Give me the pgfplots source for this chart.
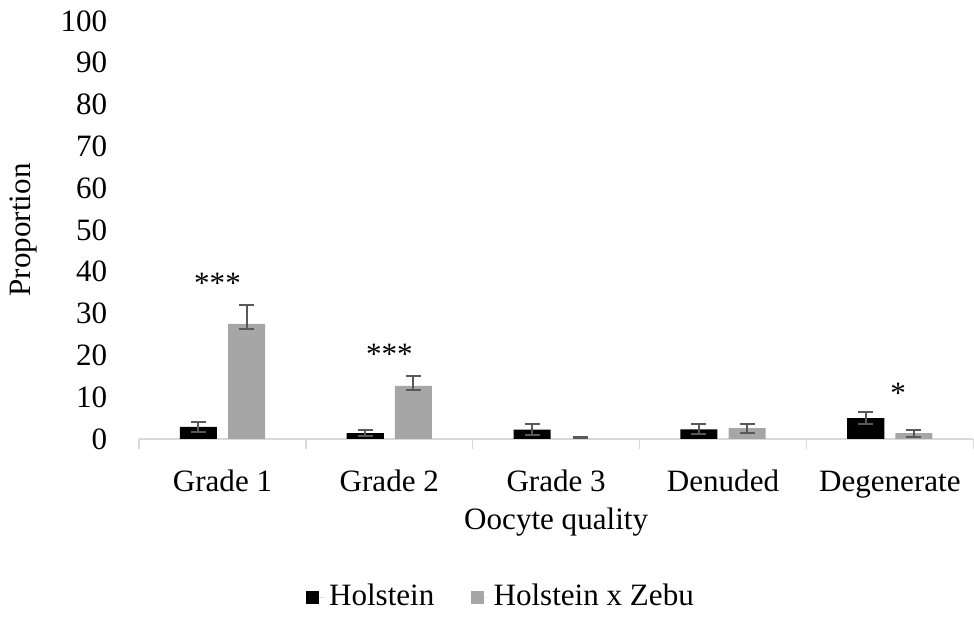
\documentclass[border=0pt]{standalone}
\usepackage{pgfplots}
\pgfplotsset{compat=1.18}
\usepackage{fontspec}
\setmainfont{Liberation Serif}
\definecolor{barblack}{HTML}{000000}
\definecolor{bargray}{HTML}{A6A6A6}
\definecolor{errgray}{HTML}{595959}
\definecolor{axgray}{HTML}{D9D9D9}
\begin{document}
\fontsize{15.5}{18}\selectfont
\begin{tikzpicture}
\begin{axis}[
  scale only axis,
  width=416pt, height=208.5pt,
  xmin=-0.5, xmax=4.5,
  ymin=0, ymax=100,
  ytick={0,10,...,100},
  xtick={0,1,2,3,4},
  xticklabels={Grade 1,Grade 2,Grade 3,Denuded,Degenerate},
  minor xtick={-0.5,0.5,1.5,2.5,3.5,4.5},
  tick align=outside,
  major tick length=0pt,
  minor tick length=5pt,
  minor x tick style={draw=axgray, line width=0.75pt},
  major tick style={draw=none},
  axis x line*=bottom,
  axis y line*=left,
  x axis line style={draw=axgray, line width=0.75pt, -},
  y axis line style={draw=none},
  /pgf/number format/assume math mode=true,
  tick label style={font=\fontsize{15.5}{18}\selectfont},
  label style={font=\fontsize{15.5}{18}\selectfont},
  yticklabel style={xshift=-10.5pt},
  xticklabel style={anchor=base, yshift=-26pt},
  xlabel={Oocyte quality},
  xlabel style={at={(axis description cs:0.5,-0.199)}, anchor=center},
  ylabel={Proportion},
  ylabel style={at={(axis description cs:-0.138,0.5)}, anchor=center},
  ybar=5.5pt,
  bar width=18.5pt,
  legend columns=2,
  legend style={draw=none, at={(0.435,-0.379)}, anchor=center,
    font=\fontsize{15.5}{18}\selectfont,
    /tikz/every even column/.append style={column sep=16pt}},
  legend image code/.code={\fill[#1] (0pt,-3.3pt) rectangle (6.6pt,3.3pt);
    \path (0pt,0pt) -- (9.5pt,0pt);},
  error bars/y dir=both,
  error bars/y explicit,
  error bars/error mark=-,
  error bars/error mark options={rotate=90, errgray, line width=1pt, mark size=3.75pt},
  error bars/error bar style={errgray, line width=1pt},
]
\addplot[fill=barblack, draw=none] coordinates {
  (0,2.9) +- (0,1.25)
  (1,1.4) +- (0,0.7)
  (2,2.2) +- (0,1.3)
  (3,2.3) +- (0,1.2)
  (4,5.0) +- (0,1.45)
};
\addlegendentry{Holstein}
\addplot[fill=bargray, draw=none] coordinates {
  (0,27.5) += (0,4.6) -= (0,1.3)
  (1,12.7) += (0,2.4) -= (0,1.0)
  (2,0)    += (0,0.5) -= (0,0)
  (3,2.6)  += (0,0.9) -= (0,1.1)
  (4,1.4)  += (0,0.7) -= (0,1.0)
};
\addlegendentry{Holstein x Zebu}
\node[anchor=base] at (axis cs:-0.03,34.9) {***};
\node[anchor=base] at (axis cs:1.0,17.9) {***};
\node[anchor=base] at (axis cs:4.05,8.5) {*};
\end{axis}
\end{tikzpicture}
\end{document}
